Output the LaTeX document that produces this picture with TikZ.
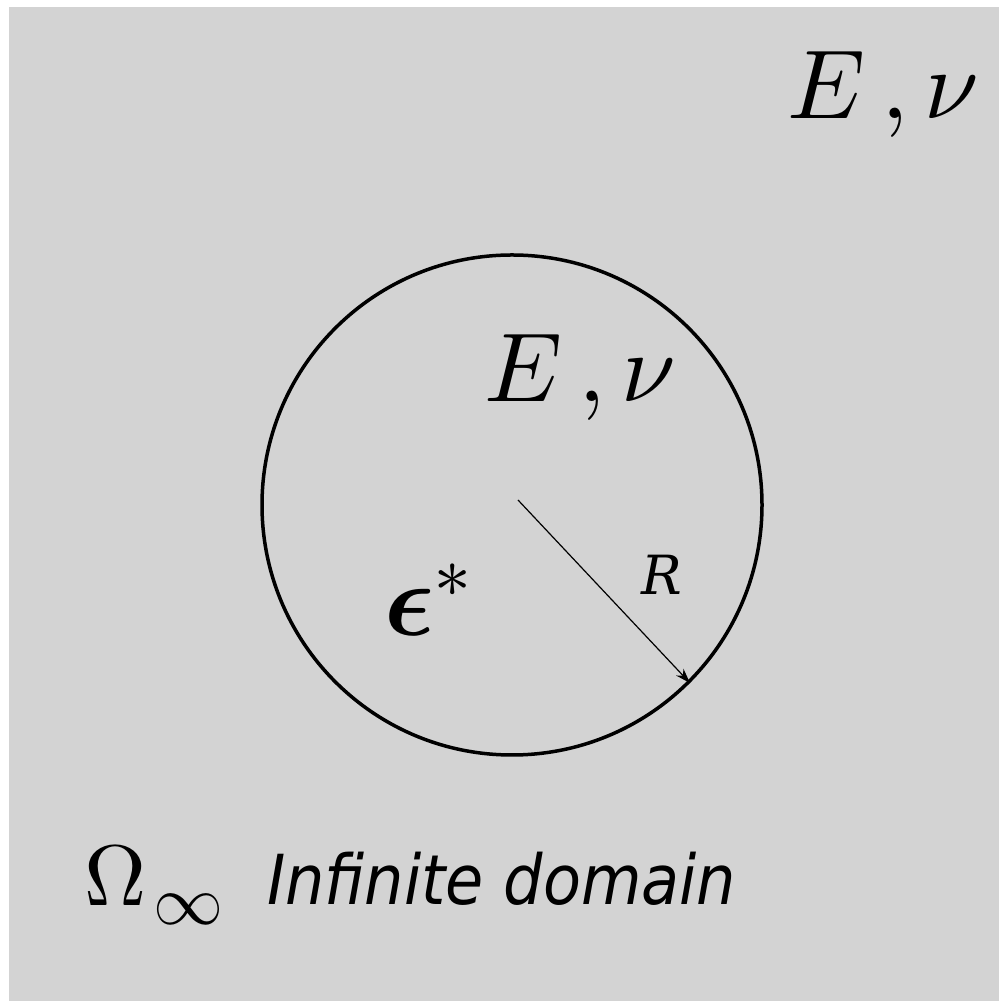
\documentclass[tikz,border=0pt]{standalone}
\usepackage{fontspec}
\usepackage{unicode-math}
\setmathfont{Latin Modern Math}
\newfontfamily\labelsans{DejaVu Sans Condensed}
\newfontfamily\labelserif{DejaVu Serif}
\usetikzlibrary{arrows.meta}
\definecolor{bggray}{RGB}{211,211,211}
\tikzset{
  mathlbl/.style={inner sep=0pt, font=\fontsize{98}{100}\selectfont},
  sanslbl/.style={inner sep=0pt, font=\labelsans\itshape\fontsize{69}{75}\selectfont},
}
\begin{document}
\begin{tikzpicture}[x=1pt,y=1pt]
\useasboundingbox (0,0) rectangle (999,1001);
\fill[bggray] (9,0) rectangle (999,994);
\node[circle, draw=black, line width=3.5pt, minimum size=500pt, inner sep=0pt] (incl) at (512,496) {};
\coordinate (c0) at (518,501);
\draw[line width=1.2pt, -{Stealth[length=15pt,width=10pt]}] (c0) -- (incl.-45);
\node[mathlbl] (Eout) at (883,906) {$E\,,\nu$};
\node[mathlbl] (Ein) at (580,623) {$E\,,\nu$};
\node[inner sep=0pt, font=\fontsize{104}{110}\selectfont] (eps) at (428,401) {$\symbf{\epsilon}^{*}$};
\node[inner sep=0pt, font=\labelserif\itshape\fontsize{54}{60}\selectfont] (R) at (662,426) {R};
\node[inner sep=0pt, anchor=base west] (om) at (84,95) {\fontsize{86}{90}\selectfont$\Omega$\kern7pt\raisebox{-19pt}{\fontsize{70}{70}\selectfont$\infty$}};
\node[sanslbl, anchor=base west] (inf) at (267,96) {Infinite domain};
\end{tikzpicture}
\end{document}
